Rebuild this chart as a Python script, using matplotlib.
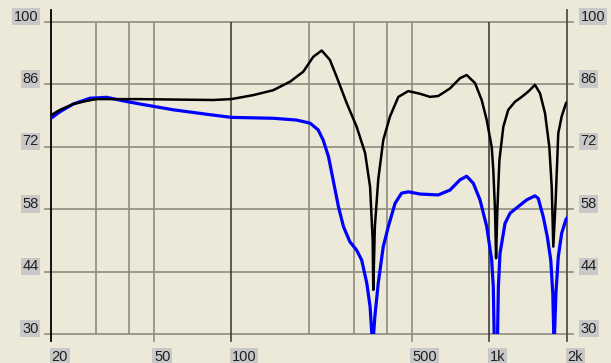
import numpy as np
import matplotlib.pyplot as plt
import matplotlib.transforms as mtransforms

# frequency response (Hz, dB)
black_f = [20, 21.7, 24.4, 27.5, 30, 43, 60, 85, 100, 121.7, 145.4, 168.8, 190, 207.8, 224,
           241, 256, 280, 306, 330, 345, 353, 355, 360, 371, 388, 412, 444, 485, 539, 589, 634,
           704, 770, 817, 880, 934, 977, 1021, 1036, 1052, 1062, 1074, 1094, 1133, 1184, 1257,
           1335, 1416, 1503, 1572, 1644, 1708, 1745, 1770, 1808, 1850, 1907, 1982, 2000]
black_db = [79.1, 80.3, 81.6, 82.3, 82.7, 82.7, 82.6, 82.5, 82.7, 83.6, 84.7, 86.6, 88.85, 92.2, 93.6,
            91.5, 87.7, 81.8, 76.5, 70.6, 63.0, 51.1, 39.9, 54.1, 64.6, 73.5, 78.8, 83.2, 84.5, 83.9, 83.2, 83.4,
            85.1, 87.4, 88.1, 86.3, 82.5, 78.0, 72.0, 66.8, 57.8, 47.0, 57.8, 69.0, 76.5, 80.3, 82.1,
            83.2, 84.4, 85.9, 84.0, 79.5, 72.0, 63.0, 49.6, 60.1, 75.0, 78.8, 81.8, 82.0]

blue_f = [20, 21.7, 24.4, 28.3, 32.9, 38.1, 44.3, 59.6, 80.3, 100, 145.4, 179, 202, 217, 227, 238,
          248, 260, 272, 288, 306, 320, 335, 345, 353, 360, 371, 388, 406, 431, 457, 485, 539, 634,
          704, 770, 817, 867, 920, 977, 1021, 1036, 1046, 1074, 1084, 1100, 1150, 1203, 1295, 1396,
          1503, 1548, 1618, 1678, 1730, 1762, 1782, 1812, 1850, 1907, 1982, 2000]
blue_db = [78.4, 79.9, 81.6, 82.9, 83.1, 82.3, 81.6, 80.3, 79.3, 78.6, 78.4, 78.0, 77.3, 75.8, 73.5, 69.8,
           64.6, 58.6, 54.1, 50.7, 48.8, 46.6, 41.4, 36.1, 27.0, 33.9, 41.4, 49.6, 54.1, 59.3, 61.6, 61.9, 61.4, 61.2,
           62.3, 64.6, 65.4, 63.8, 60.1, 54.1, 46.6, 40.6, 27.0, 27.0, 40.6, 48.1, 54.8, 57.1, 58.6, 60.1,
           61.0, 60.4, 56.3, 51.8, 46.6, 39.1, 27.0, 39.1, 47.3, 52.6, 55.7, 56.0]

y_ticks = [30, 44, 58, 72, 86, 100]
x_grid = [30, 40, 50, 200, 300, 400, 500]
x_dark = [100, 1000]
x_ticks = [20, 50, 100, 500, 1000, 2000]
x_labels = ['20', '50', '100', '500', '1k', '2k']

bg = '#ece9d8'
grid_c = '#8e8b80'
box_c = '#c8c8c8'
fam = ['Liberation Sans', 'DejaVu Sans']

fig = plt.figure(figsize=(6.11, 3.63), dpi=100, facecolor=bg)
ax = fig.add_axes([51 / 611, 29 / 363, 516 / 611, 312 / 363])
ax.set_facecolor(bg)
ax.set_xscale('log')
ax.set_xlim(20, 2000)
ax.set_ylim(30, 100)
for s in ax.spines.values():
    s.set_visible(False)
ax.set_xticks([])
ax.set_yticks([])
ax.minorticks_off()

# grid
for y in y_ticks:
    ax.axhline(y, xmin=-0.012, xmax=1.012, color=grid_c, lw=1.2, clip_on=False, zorder=1)
for x in x_grid:
    ax.axvline(x, color=grid_c, lw=1.2, zorder=1)
for x in x_dark:
    ax.axvline(x, color='#404040', lw=1.2, zorder=1)
for x in [50, 500]:
    ax.axvline(x, ymin=-0.022, ymax=0, color=grid_c, lw=1.2, clip_on=False, zorder=1)
for x in [100, 1000]:
    ax.axvline(x, ymin=-0.022, ymax=0, color='#404040', lw=1.2, clip_on=False, zorder=1)
ax.axvline(20, ymin=-0.022, ymax=1.038, color='black', lw=1.3, clip_on=False, zorder=1)
ax.axvline(2000, ymin=-0.022, ymax=1.038, color='#505050', lw=1.3, clip_on=False, zorder=1)

# curves
ax.plot(blue_f, blue_db, color='#0000ff', lw=2.3, zorder=3, solid_joinstyle='round')
ax.plot(black_f, black_db, color='black', lw=1.8, zorder=4, solid_joinstyle='round')

# labels
bbox = dict(boxstyle='square,pad=0.12', fc=box_c, ec='none')
trans_y = mtransforms.blended_transform_factory(ax.transAxes, ax.transData)
for y in y_ticks:
    ax.text(-0.024, y + 1.2, str(y), transform=trans_y, ha='right', va='center',
            fontsize=10.5, family=fam, color='#202020', bbox=bbox)
    ax.text(1.026, y + 1.2, str(y), transform=trans_y, ha='left', va='center',
            fontsize=10.5, family=fam, color='#202020', bbox=bbox)
trans_x = mtransforms.blended_transform_factory(ax.transData, ax.transAxes)
for x, lab in zip(x_ticks, x_labels):
    ax.text(x * 1.005, -0.05, lab, transform=trans_x, ha='left', va='top',
            fontsize=10.5, family=fam, color='#202020', bbox=bbox)

fig.savefig('out.png', dpi=100, facecolor=bg)
